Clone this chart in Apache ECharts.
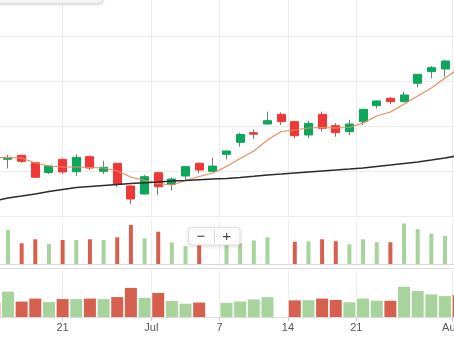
<!DOCTYPE html>
<html><head><meta charset="utf-8">
<script src="https://cdn.jsdelivr.net/npm/echarts@6/dist/echarts.min.js"></script>
<style>html,body{margin:0;padding:0;background:#fff}#c{width:454px;height:341px}</style>
</head><body><div id="c"></div>
<script>
// ---- data ----
const dates = ['2018-06-14','2018-06-15','2018-06-18','2018-06-19','2018-06-20','2018-06-21','2018-06-22',
  '2018-06-25','2018-06-26','2018-06-27','2018-06-28','2018-06-29','2018-07-02','2018-07-03','2018-07-04',
  '2018-07-05','2018-07-06','2018-07-09','2018-07-10','2018-07-11','2018-07-12','2018-07-13','2018-07-16',
  '2018-07-17','2018-07-18','2018-07-19','2018-07-20','2018-07-23','2018-07-24','2018-07-25','2018-07-26',
  '2018-07-27','2018-07-30','2018-07-31','2018-08-02'];
const opens  = [174.22,172.60,173.49,171.84,169.67,172.60,169.84,173.18,169.93,171.71,166.67,164.89,169.62,167.04,168.89,171.71,169.93,173.71,176.38,178.51,180.44,182.60,180.96,178.00,182.60,180.07,178.73,180.96,184.51,186.16,185.40,189.49,192.07,192.67,195.33];
const closes = [172.89,173.04,172.16,168.60,171.11,169.78,173.04,170.67,170.82,167.04,163.78,168.73,166.51,168.22,170.96,170.22,171.11,174.44,178.11,178.18,181.18,180.96,177.84,180.60,179.49,178.51,180.44,183.71,185.56,185.40,186.89,191.49,192.96,194.44,193.78];
const lows   = [172.22,170.56,171.78,168.44,169.33,169.33,168.89,170.22,169.33,166.44,162.67,164.78,164.67,165.62,168.00,169.49,169.78,172.60,175.40,177.11,180.33,180.22,177.27,177.27,178.73,177.62,178.00,180.22,183.93,184.82,185.33,188.60,190.60,190.96,193.33];
const highs  = [174.67,173.60,173.60,171.93,171.33,172.78,173.71,173.44,172.29,171.78,166.78,169.11,169.78,168.60,171.11,171.89,172.96,174.56,178.51,179.27,183.18,183.04,181.11,181.18,183.18,180.60,181.33,183.78,185.67,186.51,187.62,191.56,193.33,194.67,195.78];
const volumes = [19.2,34.0,20.7,24.7,20.0,24.0,24.0,24.7,24.0,26.7,39.0,25.7,32.3,21.5,17.8,19.4,null,19.0,20.7,23.6,26.7,null,22.3,22.5,24.7,22.8,19.7,24.7,21.8,21.8,40.5,34.8,30.3,28.0,29.5];
const maShort = [173.00,172.96,172.89,171.78,171.11,170.89,170.89,170.78,170.67,170.00,168.67,167.89,167.22,166.89,167.89,168.78,169.56,171.00,172.78,174.44,176.89,178.78,179.11,179.56,179.67,179.56,179.67,180.67,182.22,183.11,184.89,186.67,188.44,190.67,192.67];
const maLong  = [163.33,164.00,164.44,164.89,165.44,165.89,166.33,166.56,166.78,167.00,167.22,167.40,167.56,167.78,167.89,168.07,168.22,168.33,168.56,168.82,169.11,169.33,169.56,169.78,170.00,170.22,170.44,170.67,171.00,171.33,171.67,172.00,172.44,172.89,173.44];
const tickDates  = ['2018-06-21','2018-07-01','2018-07-07','2018-07-14','2018-07-21','2018-08-01'];
const tickLabels = ['21','Jul','7','14','21','Aug'];

// ---- build ----
const N = dates.length;
const tickPos = tickDates.map(d => {
  const i = dates.indexOf(d);
  if (i >= 0) return i;
  return dates.filter(x => x < d).length - 0.5;
});
function labelFor(v) {
  for (let j = 0; j < tickPos.length; j++) if (Math.abs(tickPos[j] - v) < 1e-6) return tickLabels[j];
  return '';
}
const UP = '#0aa85a', DOWN = '#f03737';
const VUP = '#a7d49c', VDOWN = '#d6604d';
const isDownVol = k => k === 0 ? closes[k] < opens[k] : closes[k] < closes[k - 1];

const wickData = dates.map((d, k) => [opens[k], closes[k], lows[k], highs[k]]);
const bodyData = dates.map((d, k) => [opens[k], closes[k], Math.min(opens[k], closes[k]), Math.max(opens[k], closes[k])]);
const volData = volumes.map((v, k) => ({ value: v, itemStyle: { color: isDownVol(k) ? VDOWN : VUP } }));

const L = -12.5, R = -11.5;
function overlay(g, withLabels) {
  return {
    type: 'value', gridIndex: g, min: -0.5, max: N - 0.5, position: 'bottom',
    axisLine: { show: false },
    axisTick: { show: withLabels, customValues: tickPos, length: 4, lineStyle: { color: '#cccccc' } },
    axisLabel: { show: withLabels, customValues: tickPos, formatter: v => labelFor(v),
      color: '#555', fontSize: 11, margin: 5, fontFamily: 'Liberation Sans, Arial, sans-serif' },
    splitLine: { show: true, lineStyle: { color: '#ececec', width: 1 } }
  };
}
function catAxis(g, lineColor) {
  return {
    type: 'category', gridIndex: g, data: dates, boundaryGap: true,
    axisLine: { show: !!lineColor, lineStyle: { color: lineColor || '#ccc' } },
    axisTick: { show: false }, axisLabel: { show: false }, splitLine: { show: false }
  };
}
const gridBase = { left: L, right: R, outerBoundsMode: 'none', containLabel: false };

const option = {
  animation: false,
  backgroundColor: '#ffffff',
  grid: [
    Object.assign({ top: -9, height: 225 }, gridBase),
    Object.assign({ top: 220, height: 44 }, gridBase),
    Object.assign({ top: 270, height: 47 }, gridBase)
  ],
  xAxis: [
    catAxis(0, null), catAxis(1, '#d9d9d9'), catAxis(2, '#dcdcdc'),
    overlay(0, false), overlay(1, false), overlay(2, true)
  ],
  yAxis: [
    { type: 'value', gridIndex: 0, min: 160, max: 210, interval: 10,
      axisLine: { show: false }, axisTick: { show: false }, axisLabel: { show: false },
      splitLine: { show: true, lineStyle: { color: '#ececec', width: 1 } } },
    { type: 'value', gridIndex: 1, min: 0, max: 44, show: false, splitLine: { show: false } },
    { type: 'value', gridIndex: 2, min: 0, max: 63, show: false, splitLine: { show: false } }
  ],
  series: [
    { type: 'candlestick', name: 'wick', xAxisIndex: 0, yAxisIndex: 0, barWidth: 1, data: wickData, silent: true,
      itemStyle: { color: '#7a7a7a', color0: '#7a7a7a', borderColor: '#7a7a7a', borderColor0: '#7a7a7a', borderWidth: 1 } },
    { type: 'candlestick', name: 'body', xAxisIndex: 0, yAxisIndex: 0, barWidth: 8.5, data: bodyData,
      itemStyle: { color: UP, color0: DOWN, borderColor: UP, borderColor0: DOWN, borderWidth: 1 } },
    { type: 'line', name: 'MA short', xAxisIndex: 0, yAxisIndex: 0, data: maShort, showSymbol: false, z: 4,
      lineStyle: { color: '#ec8a5e', width: 1.2 } },
    { type: 'line', name: 'MA long', xAxisIndex: 0, yAxisIndex: 0, data: maLong, showSymbol: false, z: 4,
      lineStyle: { color: '#2b2b2b', width: 1.6 } },
    { type: 'bar', name: 'Volume', xAxisIndex: 1, yAxisIndex: 1, barWidth: 4, data: volData },
    { type: 'bar', name: 'Navigator', xAxisIndex: 2, yAxisIndex: 2, barWidth: 12, data: volData }
  ],
  graphic: [
    { type: 'rect', z: 100, shape: { x: -6, y: -20, width: 109, height: 23.5, r: 4 },
      style: { fill: '#f4f4f4', stroke: '#dedede', lineWidth: 1, shadowBlur: 3, shadowColor: 'rgba(0,0,0,0.12)', shadowOffsetY: 1 } },
    { type: 'line', z: 50, shape: { x1: 0, y1: 268.5, x2: 454, y2: 268.5 }, style: { stroke: '#dedede', lineWidth: 1 } },
    { type: 'rect', z: 100, shape: { x: 188.5, y: 227.5, width: 51.5, height: 17.5, r: 3 },
      style: { fill: 'rgba(255,255,255,0.94)', stroke: '#e2e2e2', lineWidth: 1, shadowBlur: 4, shadowColor: 'rgba(0,0,0,0.12)', shadowOffsetY: 1 } },
    { type: 'line', z: 101, shape: { x1: 214.5, y1: 230, x2: 214.5, y2: 243 }, style: { stroke: '#d6d6d6', lineWidth: 1 } },
    { type: 'text', z: 101, x: 201, y: 236.5,
      style: { text: '\u2212', fill: '#444', font: '15px "Liberation Sans", Arial, sans-serif', align: 'center', verticalAlign: 'middle' } },
    { type: 'text', z: 101, x: 226.7, y: 236.5,
      style: { text: '+', fill: '#444', font: '15px "Liberation Sans", Arial, sans-serif', align: 'center', verticalAlign: 'middle' } }
  ]
};
const chart = echarts.init(document.getElementById('c'));
chart.setOption(option);
</script>
</body></html>
